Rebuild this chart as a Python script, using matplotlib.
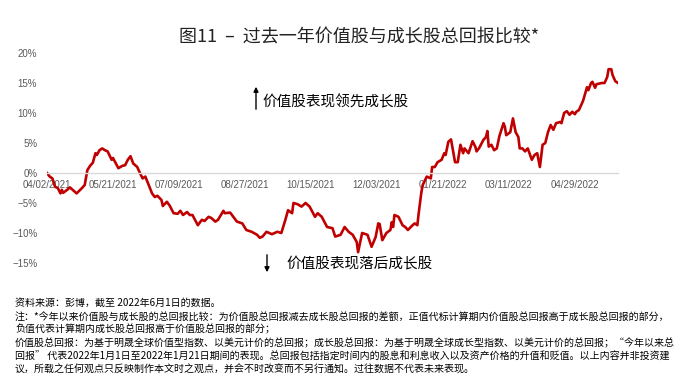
import pandas as pd
import matplotlib
matplotlib.use('Agg')
import matplotlib.pyplot as plt
import matplotlib.dates as mdates
import matplotlib.ticker as mticker

plt.rcParams['font.family'] = ['Liberation Sans', 'Noto Sans CJK SC', 'DejaVu Sans']
plt.rcParams['axes.unicode_minus'] = True

# 价值股总回报减去成长股总回报 (%)
dates = [
    '2021-04-02', '2021-04-04', '2021-04-06', '2021-04-08', '2021-04-10', '2021-04-12',
    '2021-04-13', '2021-04-14', '2021-04-17', '2021-04-19', '2021-04-24', '2021-04-28',
    '2021-04-30', '2021-05-02', '2021-05-04', '2021-05-06', '2021-05-08', '2021-05-09',
    '2021-05-11', '2021-05-13', '2021-05-15', '2021-05-17', '2021-05-20', '2021-05-21',
    '2021-05-25', '2021-05-28', '2021-05-30', '2021-06-01', '2021-06-03', '2021-06-05',
    '2021-06-08', '2021-06-10', '2021-06-12', '2021-06-14', '2021-06-16', '2021-06-19',
    '2021-06-21', '2021-06-23', '2021-06-26', '2021-06-27', '2021-06-30', '2021-07-02',
    '2021-07-05', '2021-07-08', '2021-07-10', '2021-07-12', '2021-07-15', '2021-07-17',
    '2021-07-19', '2021-07-23', '2021-07-26', '2021-07-28', '2021-07-31', '2021-08-02',
    '2021-08-05', '2021-08-07', '2021-08-11', '2021-08-12', '2021-08-16', '2021-08-21',
    '2021-08-25', '2021-08-28', '2021-09-01', '2021-09-05', '2021-09-07', '2021-09-09',
    '2021-09-12', '2021-09-16', '2021-09-20', '2021-09-23', '2021-09-26', '2021-09-28',
    '2021-10-01', '2021-10-02', '2021-10-05', '2021-10-08', '2021-10-11', '2021-10-14',
    '2021-10-18', '2021-10-20', '2021-10-23', '2021-10-27', '2021-10-31', '2021-11-02',
    '2021-11-06', '2021-11-09', '2021-11-12', '2021-11-15', '2021-11-18', '2021-11-19',
    '2021-11-22', '2021-11-26', '2021-11-29', '2021-12-02', '2021-12-04', '2021-12-05',
    '2021-12-07', '2021-12-10', '2021-12-13', '2021-12-14', '2021-12-15', '2021-12-16',
    '2021-12-19', '2021-12-22', '2021-12-24', '2021-12-26', '2021-12-29', '2021-12-31',
    '2022-01-02', '2022-01-03', '2022-01-05', '2022-01-06', '2022-01-09', '2022-01-12',
    '2022-01-13', '2022-01-15', '2022-01-17', '2022-01-20', '2022-01-22', '2022-01-23',
    '2022-01-25', '2022-01-27', '2022-01-30', '2022-02-01', '2022-02-03', '2022-02-05',
    '2022-02-06', '2022-02-09', '2022-02-12', '2022-02-14', '2022-02-15', '2022-02-17',
    '2022-02-20', '2022-02-22', '2022-02-23', '2022-02-24', '2022-02-26', '2022-02-28',
    '2022-03-02', '2022-03-04', '2022-03-07', '2022-03-08', '2022-03-09', '2022-03-12',
    '2022-03-14', '2022-03-16', '2022-03-18', '2022-03-19', '2022-03-21', '2022-03-23',
    '2022-03-25', '2022-03-28', '2022-03-30', '2022-04-01', '2022-04-03', '2022-04-05',
    '2022-04-07', '2022-04-09', '2022-04-11', '2022-04-13', '2022-04-15', '2022-04-18',
    '2022-04-19', '2022-04-21', '2022-04-23', '2022-04-25', '2022-04-27', '2022-04-29',
    '2022-04-30', '2022-05-02', '2022-05-05', '2022-05-08', '2022-05-09', '2022-05-11',
    '2022-05-12', '2022-05-14', '2022-05-15', '2022-05-19', '2022-05-21', '2022-05-23',
    '2022-05-24', '2022-05-26', '2022-05-27', '2022-05-29', '2022-05-31',
]
values = [
    0.0, -0.6, -0.9, -2.3, -2.5, -3.4,
    -2.8, -3.3, -2.8, -2.4, -3.4, -2.5,
    -2.0, 0.5, 1.2, 1.7, 3.3, 3.0,
    3.8, 4.1, 3.8, 3.6, 2.2, 2.5,
    0.8, 1.2, 1.3, 2.2, 2.8, 1.6,
    1.0, 0.0, -0.9, -0.6, -1.7, -3.4,
    -4.0, -3.8, -4.5, -5.5, -4.8, -5.4,
    -6.7, -6.8, -6.3, -7.0, -6.5, -7.0,
    -7.0, -8.7, -7.8, -8.0, -7.3, -7.5,
    -8.1, -7.8, -6.3, -6.7, -6.6, -8.1,
    -8.4, -9.5, -9.8, -10.3, -10.8, -10.6,
    -9.8, -10.2, -9.8, -10.0, -7.8, -6.2,
    -6.7, -5.0, -5.2, -5.6, -5.0, -5.6,
    -7.3, -6.7, -7.3, -9.0, -9.2, -10.6,
    -10.3, -9.0, -9.8, -10.3, -11.5, -13.2,
    -10.0, -10.3, -12.3, -10.7, -8.4, -8.5,
    -11.2, -10.0, -9.5, -8.2, -9.0, -7.0,
    -7.3, -8.7, -9.0, -9.5, -8.8, -8.4,
    -8.7, -6.7, -3.2, -2.0, -0.6, -0.9,
    1.0, 1.0, 1.8, 2.2, 3.3, 3.0,
    5.2, 5.6, 1.8, 1.8, 4.7, 3.3,
    4.1, 3.3, 5.3, 4.4, 3.6, 4.2,
    5.5, 6.0, 7.0, 4.4, 4.7, 3.8,
    4.1, 6.2, 8.3, 7.7, 6.3, 6.8,
    9.1, 6.8, 6.0, 4.1, 4.1, 3.6,
    4.1, 2.2, 3.0, 3.3, 1.0, 4.7,
    5.0, 6.8, 8.0, 7.2, 8.3, 8.5,
    8.3, 10.0, 10.3, 9.7, 10.2, 9.8,
    10.2, 10.5, 12.0, 14.3, 13.8, 15.0,
    15.2, 14.2, 14.8, 15.0, 15.0, 16.0,
    17.3, 17.3, 16.3, 15.3, 15.0,
]
tick_dates = ['2021-04-02', '2021-05-21', '2021-07-09', '2021-08-27', '2021-10-15',
              '2021-12-03', '2022-01-21', '2022-03-11', '2022-04-29']
y_ticks = [-15, -10, -5, 0, 5, 10, 15, 20]

title = '图11  –  过去一年价值股与成长股总回报比较*'
label_up = '价值股表现领先成长股'
label_down = '价值股表现落后成长股'
notes = [
    '资料来源：彭博，截至 2022年6月1日的数据。',
    '注：*今年以来价值股与成长股的总回报比较：为价值股总回报减去成长股总回报的差额，正值代标计算期内价值股总回报高于成长股总回报的部分，',
    '负值代表计算期内成长股总回报高于价值股总回报的部分；',
    '价值股总回报：为基于明晟全球价值型指数、以美元计价的总回报；成长股总回报：为基于明晟全球成长型指数、以美元计价的总回报；“今年以来总',
    '回报” 代表2022年1月1日至2022年1月21日期间的表现。总回报包括指定时间内的股息和利息收入以及资产价格的升值和贬值。以上内容并非投资建',
    '议，所载之任何观点只反映制作本文时之观点，并会不时改变而不另行通知。过往数据不代表未来表现。',
]

df = pd.DataFrame({'Date': pd.to_datetime(dates), 'Diff': values})

W, H = 698, 387
fig = plt.figure(figsize=(W / 100, H / 100), dpi=100)
ax = fig.add_axes([47 / W, 1 - 263 / H, (618 - 47) / W, (263 - 53) / H])

ax.plot(df['Date'], df['Diff'], color='#c00000', linewidth=1.9, solid_joinstyle='round')

ax.set_xlim(df['Date'].iloc[0], df['Date'].iloc[-1])
ax.set_ylim(-15, 20)

for s in ['top', 'right', 'left']:
    ax.spines[s].set_visible(False)
ax.spines['bottom'].set_position(('data', 0))
ax.spines['bottom'].set_color('#d9d9d9')
ax.spines['bottom'].set_linewidth(1)

ax.set_xticks(pd.to_datetime(tick_dates))
ax.xaxis.set_major_formatter(mdates.DateFormatter('%m/%d/%Y'))
ax.set_yticks(y_ticks)
ax.yaxis.set_major_formatter(mticker.FuncFormatter(lambda v, p: f'{v:.0f}%'.replace('-', '−')))
ax.tick_params(axis='x', length=0, pad=5, labelsize=7, labelcolor='#595959')
ax.tick_params(axis='y', length=0, pad=7, labelsize=7, labelcolor='#595959')

cjk = ['Noto Sans CJK SC', 'DejaVu Sans']
fig.text(359 / W, 1 - 38 / H, title, ha='center', va='center', fontsize=13,
         family=cjk, color='#222222')

# 箭头与说明
ax.annotate('', xy=(256 / W, 1 - 84 / H), xytext=(256 / W, 1 - 112 / H),
            xycoords='figure fraction', textcoords='figure fraction',
            arrowprops=dict(arrowstyle='-|>', color='black', lw=1, mutation_scale=7))
fig.text(262 / W, 1 - 102 / H, label_up, ha='left', va='center', fontsize=10.5, family=cjk)
ax.annotate('', xy=(267 / W, 1 - 275 / H), xytext=(267 / W, 1 - 252 / H),
            xycoords='figure fraction', textcoords='figure fraction',
            arrowprops=dict(arrowstyle='-|>', color='black', lw=1, mutation_scale=7))
fig.text(286 / W, 1 - 263 / H, label_down, ha='left', va='center', fontsize=10.5, family=cjk)

for i, line in enumerate(notes):
    fig.text(15 / W, 1 - (303 + i * 13.3) / H, line, ha='left', va='center',
             fontsize=7.2, family=cjk, color='black')

fig.savefig('out.png', dpi=100)
